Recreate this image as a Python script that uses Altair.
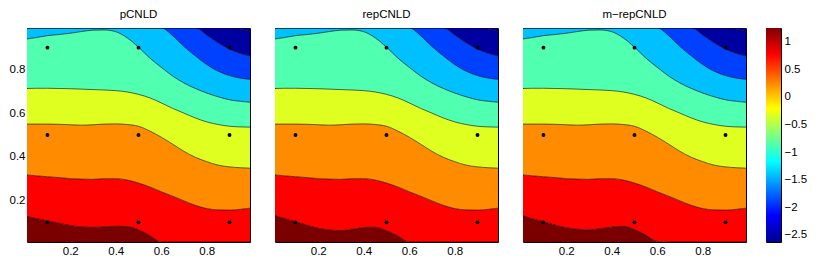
import altair as alt
import pandas as pd

# ---------------- data ----------------
X = [0.01, 0.05, 0.10, 0.15, 0.20, 0.25, 0.30, 0.35, 0.40, 0.45, 0.50,
     0.55, 0.60, 0.65, 0.70, 0.75, 0.80, 0.85, 0.90, 0.95, 0.99]

# contour level 1.0 (differs per panel)
C1_PCNLD = [0.126, 0.118, 0.107, 0.096, 0.086, 0.079, 0.077, 0.079, 0.082, 0.081, 0.066,
            0.040, 0.010, 0.010, 0.010, 0.010, 0.010, 0.010, 0.010, 0.010, 0.010]
C1_REPCNLD = [0.130, 0.118, 0.103, 0.087, 0.073, 0.065, 0.062, 0.068, 0.076, 0.078, 0.062,
              0.038, 0.010, 0.010, 0.010, 0.010, 0.010, 0.010, 0.010, 0.010, 0.010]
C1_MREPCNLD = [0.130, 0.117, 0.103, 0.088, 0.075, 0.068, 0.066, 0.071, 0.078, 0.082, 0.067,
               0.042, 0.012, 0.010, 0.010, 0.010, 0.010, 0.010, 0.010, 0.010, 0.010]
# contour level 0.5
C2 = [0.317, 0.313, 0.309, 0.305, 0.300, 0.298, 0.297, 0.300, 0.300, 0.294, 0.280,
      0.262, 0.240, 0.220, 0.198, 0.178, 0.163, 0.157, 0.156, 0.160, 0.165]
# contour level 0
C3 = [0.550, 0.550, 0.550, 0.549, 0.547, 0.545, 0.547, 0.550, 0.551, 0.548, 0.540,
      0.518, 0.490, 0.458, 0.425, 0.398, 0.378, 0.362, 0.354, 0.350, 0.348]
# contour level -0.5
C4 = [0.713, 0.714, 0.714, 0.713, 0.712, 0.710, 0.708, 0.706, 0.703, 0.697, 0.686,
      0.670, 0.647, 0.622, 0.600, 0.578, 0.560, 0.548, 0.540, 0.537, 0.536]
# contour level -1
C5 = [0.940, 0.946, 0.955, 0.960, 0.966, 0.974, 0.980, 0.981, 0.973, 0.945, 0.902,
      0.852, 0.810, 0.770, 0.738, 0.713, 0.692, 0.675, 0.661, 0.654, 0.650]
# contour level -1.5 (leaves through the top edge)
C6 = [0.99, 0.99, 0.99, 0.99, 0.99, 0.99, 0.99, 0.99, 0.99, 0.99, 0.99,
      0.99, 0.99, 0.955, 0.905, 0.862, 0.822, 0.792, 0.772, 0.760, 0.755]
# contour level -2
C7 = [0.99, 0.99, 0.99, 0.99, 0.99, 0.99, 0.99, 0.99, 0.99, 0.99, 0.99,
      0.99, 0.99, 0.99, 0.99, 0.99, 0.958, 0.922, 0.893, 0.873, 0.862]
# contour level -2.5
C8 = [0.99, 0.99, 0.99, 0.99, 0.99, 0.99, 0.99, 0.99, 0.99, 0.99, 0.99,
      0.99, 0.99, 0.99, 0.99, 0.99, 0.99, 0.99, 0.99, 0.984, 0.975]

DOT_X = [0.1, 0.5, 0.9, 0.1, 0.5, 0.9, 0.1, 0.5, 0.9]
DOT_Y = [0.1, 0.1, 0.1, 0.5, 0.5, 0.5, 0.9, 0.9, 0.9]

TITLES = ["pCNLD", "repCNLD", "m\u2212repCNLD"]
TICKS = [0.2, 0.4, 0.6, 0.8]
CB_TICKS = [1, 0.5, 0, -0.5, -1, -1.5, -2, -2.5]
CB_MIN, CB_MAX = -2.63, 1.25
AX_MIN, AX_MAX = 0.01, 0.99

BAND_COLORS = ["#7A0000", "#FF0000", "#FF8C00", "#DFFF20", "#50FFB0",
               "#00C0FF", "#0040FF", "#0000A0", "#000088"]
JET_STOPS = [(0.0, "#00008F"), (0.125, "#0000FF"), (0.375, "#00FFFF"),
             (0.625, "#FFFF00"), (0.875, "#FF0000"), (1.0, "#800000")]

FONT = "Liberation Sans"
FS = 11.5


def panel(title, c1, show_y):
    contours = [c1, C2, C3, C4, C5, C6, C7, C8]
    rows = []
    for k in range(9):
        for i, x in enumerate(X):
            lo = AX_MIN if k == 0 else contours[k - 1][i]
            hi = contours[k][i] if k < 8 else AX_MAX
            rows.append({"x": x, "lo": lo, "hi": hi, "band": k})
    bands = pd.DataFrame(rows)
    lines = pd.DataFrame([{"x": x, "y": contours[k][i], "level": k}
                          for k in range(8) for i, x in enumerate(X)])
    dots = pd.DataFrame({"x": DOT_X, "y": DOT_Y})

    xs = alt.Scale(domain=[AX_MIN, AX_MAX], nice=False, zero=False)
    ys = alt.Scale(domain=[AX_MIN, AX_MAX], nice=False, zero=False)
    xaxis = alt.Axis(values=TICKS, format=".1f", ticks=False, domain=False, grid=False,
                     labelPadding=3, title=None)
    if show_y:
        yaxis = alt.Axis(values=TICKS, format=".1f", ticks=False, domain=False, grid=False,
                         labelPadding=2, title=None)
    else:
        yaxis = None

    area = alt.Chart(bands).mark_area(interpolate="monotone", clip=True).encode(
        x=alt.X("x:Q", scale=xs, axis=xaxis),
        y=alt.Y("lo:Q", scale=ys, axis=yaxis, stack=None),
        y2="hi:Q",
        color=alt.Color("band:N", scale=alt.Scale(domain=list(range(9)), range=BAND_COLORS),
                        legend=None),
    )
    line = alt.Chart(lines).mark_line(interpolate="monotone", color="black",
                                      strokeWidth=0.6, clip=True).encode(
        x=alt.X("x:Q", scale=xs, axis=xaxis),
        y=alt.Y("y:Q", scale=ys, axis=yaxis),
        detail="level:N",
    )
    pts = alt.Chart(dots).mark_circle(color="black", size=15, opacity=1).encode(
        x=alt.X("x:Q", scale=xs, axis=xaxis),
        y=alt.Y("y:Q", scale=ys, axis=yaxis),
    )
    return alt.layer(area, line, pts).properties(
        width=223, height=214,
        title=alt.TitleParams(title, fontSize=FS, fontWeight="normal", color="black",
                              font=FONT, anchor="middle", offset=8),
    )


p1 = panel(TITLES[0], C1_PCNLD, True)
p2 = panel(TITLES[1], C1_REPCNLD, False)
p3 = panel(TITLES[2], C1_MREPCNLD, False)

cb_df = pd.DataFrame({"lo": [CB_MIN], "hi": [CB_MAX]})
grad = alt.Gradient(
    gradient="linear",
    stops=[alt.GradientStop(color=c, offset=o) for o, c in JET_STOPS],
    x1=0, x2=0, y1=1, y2=0,
)
colorbar = alt.Chart(cb_df).mark_rect(color=grad).encode(
    y=alt.Y("lo:Q", scale=alt.Scale(domain=[CB_MIN, CB_MAX], nice=False, zero=False),
            axis=alt.Axis(orient="right", values=CB_TICKS, format="~g", ticks=False,
                          domain=False, grid=False, labelPadding=3, title=None)),
    y2="hi:Q",
    x=alt.value(0),
    x2=alt.value(15),
).properties(
    width=15, height=214,
    title=alt.TitleParams(" ", fontSize=FS, fontWeight="normal", font=FONT,
                          anchor="middle", offset=8),
)

panels = alt.hconcat(p1, p2, p3, spacing=23)
chart = alt.hconcat(panels, colorbar, spacing=18).properties(padding=0).configure(
    font=FONT
).configure_view(
    stroke="black", strokeWidth=1
).configure_axis(
    labelFont=FONT, labelFontSize=FS, labelColor="black"
)

chart.save("out.html", embed_options={"renderer": "svg", "actions": False})
